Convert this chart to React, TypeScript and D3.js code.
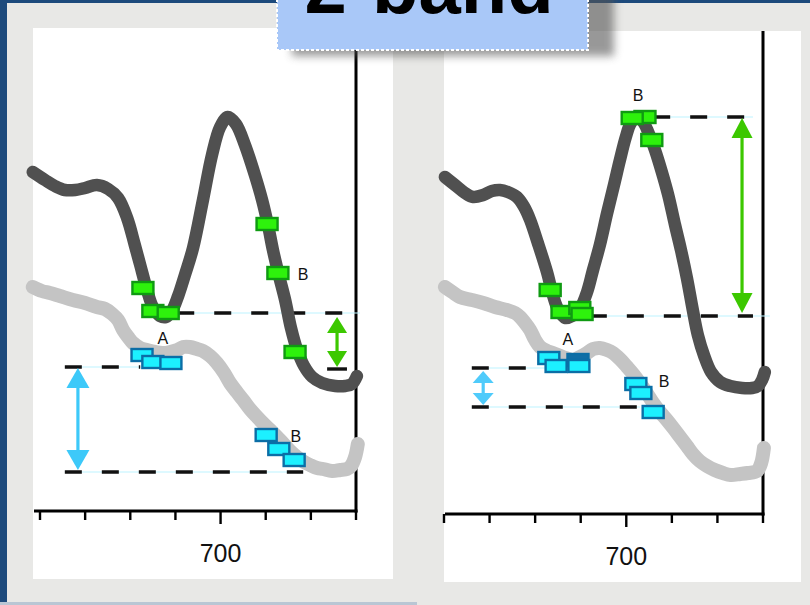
import React from 'react';
import * as d3 from 'd3';

const W = 810;
const H = 605;

// x axis: wavelength (nm)
const tickValues = [660, 670, 680, 690, 700, 710, 720, 730];
const majorTicks = [700];
const title = '2-band';

// curves: [wavelength nm, signal]
const leftDark: [number, number][] = [
  [658.4, 69.6], [661.1, 68.0], [663.3, 66.8], [665.5, 66.0], [667.8, 66.0], [670.0, 66.4], [672.6, 67.0],
  [675.1, 66.2], [677.3, 64.4], [679.3, 60.4], [681.0, 55.0], [682.2, 51.0], [683.7, 46.0], [685.0, 42.6],
  [686.6, 40.8], [687.9, 40.6], [689.2, 41.8], [690.6, 44.8], [692.1, 49.0], [693.9, 54.4], [696.1, 64.0],
  [698.1, 73.0], [699.9, 78.6], [701.6, 80.6], [703.4, 79.2], [705.4, 75.0], [707.6, 69.0], [709.2, 64.0],
  [710.5, 59.0], [711.6, 54.0], [712.9, 49.0], [714.3, 44.0], [715.6, 38.4], [716.9, 34.2], [718.5, 30.8],
  [720.3, 28.6], [722.5, 27.4], [725.4, 26.8], [727.6, 26.8], [729.1, 27.2], [730.2, 28.8],
];
const leftLight: [number, number][] = [
  [658.4, 46.6], [660.4, 45.8], [662.2, 45.4], [664.4, 44.8], [667.3, 44.0], [670.0, 43.4], [672.6, 42.6],
  [674.4, 42.2], [676.0, 41.2], [677.3, 40.0], [678.4, 38.0], [679.5, 36.6], [680.6, 35.4], [682.2, 34.4],
  [683.7, 34.0], [685.5, 33.6], [687.2, 33.4], [688.8, 33.6], [690.4, 34.0], [691.7, 34.6], [693.2, 34.6],
  [694.8, 34.2], [696.1, 33.8], [697.7, 32.8], [699.2, 31.4], [700.8, 29.4], [702.1, 27.4], [703.6, 25.6],
  [705.0, 24.0], [706.5, 22.2], [708.1, 20.6], [709.6, 19.2], [711.0, 18.0], [712.5, 16.6], [713.8, 15.4],
  [715.4, 13.8], [716.9, 12.6], [718.5, 11.6], [719.8, 11.0], [721.4, 10.4], [722.7, 10.2], [724.7, 9.8],
  [726.5, 10.0], [728.0, 10.2], [728.9, 10.8], [729.8, 12.6], [730.4, 15.2],
];
const rightDark: [number, number][] = [
  [660.2, 68.6], [662.4, 67.0], [664.6, 65.4], [666.4, 64.6], [668.6, 65.0], [670.5, 65.8], [672.3, 66.0],
  [674.0, 65.6], [676.0, 64.6], [677.6, 62.6], [678.9, 60.0], [680.6, 55.4], [682.6, 49.6], [683.9, 45.0],
  [685.0, 42.2], [686.6, 40.4], [688.1, 40.8], [689.8, 42.2], [691.4, 45.6], [692.7, 50.0], [694.2, 55.0],
  [695.8, 61.4], [697.3, 67.0], [698.6, 72.0], [699.9, 76.6], [701.0, 79.4], [702.4, 80.6], [703.7, 79.6],
  [704.8, 77.6], [706.3, 74.0], [707.8, 69.6], [709.2, 65.0], [710.7, 59.0], [712.0, 54.0], [713.3, 48.4],
  [714.6, 42.0], [715.7, 37.0], [717.1, 32.8], [718.6, 29.6], [720.6, 27.6], [722.8, 26.8], [725.4, 26.4],
  [727.6, 26.4], [728.9, 26.8], [729.8, 28.0], [730.4, 29.6],
];
const rightLight: [number, number][] = [
  [660.2, 46.6], [661.8, 45.6], [663.5, 44.6], [666.1, 44.0], [668.6, 43.4], [671.2, 42.6], [673.8, 42.0],
  [675.6, 41.4], [676.7, 40.6], [677.8, 39.4], [678.9, 38.0], [680.0, 36.0], [681.1, 34.6], [682.6, 33.8],
  [683.9, 33.4], [686.1, 32.6], [688.3, 32.0], [689.8, 32.6], [691.4, 33.4], [692.7, 34.2], [694.2, 34.4],
  [695.8, 34.0], [697.1, 33.4], [698.6, 32.2], [700.2, 30.6], [701.7, 29.0], [703.0, 27.4], [704.5, 25.4],
  [705.9, 23.4], [707.4, 21.6], [708.9, 20.0], [710.3, 18.4], [711.8, 16.6], [713.3, 14.8], [714.6, 13.2],
  [716.1, 11.8], [717.7, 10.8], [719.4, 10.0], [721.2, 9.4], [722.9, 9.0], [725.0, 9.2], [726.7, 9.4],
  [728.7, 9.8], [729.6, 11.4], [730.2, 14.4],
];

// band markers
const leftGreenMarks: [number, number][] = [[682.8, 46.4], [685.0, 41.8], [688.4, 41.4], [710.3, 59.2], [712.7, 49.4], [716.5, 33.6]];
const leftBlueMarks: [number, number][] = [[682.6, 33.0], [685.0, 31.6], [689.0, 31.4], [710.1, 17.0], [712.9, 14.2], [716.3, 12.0]];
const rightGreenMarks: [number, number][] = [[683.3, 46.0], [685.9, 41.6], [689.8, 42.4], [690.3, 41.2], [704.1, 80.6], [701.3, 80.4], [705.6, 76.0]];
const rightBlueMarksA: [number, number][] = [[683.0, 32.4], [684.6, 30.8]];
const rightBlueDark: [number, number][] = [[689.4, 32.0]];
const rightBlueMarksB: [number, number][] = [[689.6, 30.8], [702.1, 27.2], [703.2, 25.4], [705.9, 21.6]];

// reference levels
const leftGreenLevels = [41.4, 30.2];
const leftBlueLevels = [30.6, 9.6];
const rightGreenLevels = [80.6, 40.8];
const rightBlueLevels = [30.4, 22.6];

// point labels: text, nm, signal
const leftLabels: [string, number, number][] = [['A', 687.2, 35.2], ['B', 718.3, 48.0], ['B', 716.7, 15.6]];
const rightLabels: [string, number, number][] = [['A', 687.2, 35.0], ['B', 702.6, 83.8], ['B', 708.3, 26.6]];

const y = d3.scaleLinear().domain([0, 100]).range([520, 20]);

const GREEN_FILL = '#2ef20c';
const GREEN_STROKE = '#0f9a12';
const CYAN_FILL = '#1cf0ff';
const BLUE_STROKE = '#0b6ea6';
const DARK_BLUE = '#0f6ea6';
const DARK_LINE = '#505050';
const LIGHT_LINE = '#c4c4c4';

function Marker({ cx, cy, fill, stroke }: { cx: number; cy: number; fill: string; stroke: string }) {
  return <rect x={cx - 10.5} y={cy - 6} width={21} height={12} fill={fill} stroke={stroke} strokeWidth={2.4} />;
}

function Arrow({ x, y1, y2, hw, hh, color }: { x: number; y1: number; y2: number; hw: number; hh: number; color: string }) {
  return (
    <g fill={color} stroke="none">
      <line x1={x} x2={x} y1={y1 + hh - 1} y2={y2 - hh + 1} stroke={color} strokeWidth={3.2} />
      <polygon points={`${x},${y1} ${x - hw / 2},${y1 + hh} ${x + hw / 2},${y1 + hh}`} />
      <polygon points={`${x},${y2} ${x - hw / 2},${y2 - hh} ${x + hw / 2},${y2 - hh}`} />
    </g>
  );
}

function Dashed({ x1, x2, yy, thinEnd }: { x1: number; x2: number; yy: number; thinEnd?: number }) {
  return (
    <g>
      <line x1={x1} x2={thinEnd ?? x2} y1={yy} y2={yy} stroke="#bdf3ff" strokeWidth={1.2} />
      <line x1={x1} x2={x2} y1={yy} y2={yy} stroke="#111" strokeWidth={3.4} strokeDasharray="17 20" />
    </g>
  );
}

type PanelProps = {
  px0: number; px1: number; py0: number; py1: number;
  axisX: number; axisY: number; r0: number; r1: number;
  dark: [number, number][]; light: [number, number][];
  children: (x: d3.ScaleLinear<number, number>) => { pre: React.ReactNode; post: React.ReactNode };
};

function Panel({ px0, px1, py0, py1, axisX, axisY, r0, r1, dark, light, children }: PanelProps) {
  const x = d3.scaleLinear().domain([660, 730]).range([r0, r1]);
  const lineGen = d3.line<[number, number]>().x(d => x(d[0])).y(d => y(d[1])).curve(d3.curveCatmullRom.alpha(0.5));
  const parts = children(x);
  return (
    <g>
      <rect x={px0} y={py0} width={px1 - px0} height={py1 - py0} fill="#ffffff" />
      <line x1={axisX} x2={axisX} y1={py0} y2={axisY + 1.5} stroke="#000" strokeWidth={3} />
      <line x1={px0 + 1} x2={axisX + 1.5} y1={axisY} y2={axisY} stroke="#000" strokeWidth={3.2} />
      {tickValues.map(t => (
        <line key={t} x1={x(t)} x2={x(t)} y1={axisY} y2={axisY + (majorTicks.includes(t) ? 13 : 9)} stroke="#000" strokeWidth={2.4} />
      ))}
      {majorTicks.map(t => (
        <text key={t} x={x(t)} y={axisY + 51} fontSize={25} textAnchor="middle" fontFamily="'Liberation Sans', Arial, sans-serif" fill="#111">
          {String(t)}
        </text>
      ))}
      {parts.pre}
      <path d={lineGen(light) || ''} fill="none" stroke={LIGHT_LINE} strokeWidth={14} strokeLinejoin="round" strokeLinecap="round" />
      <path d={lineGen(dark) || ''} fill="none" stroke={DARK_LINE} strokeWidth={12.5} strokeLinejoin="round" strokeLinecap="round" />
      {parts.post}
    </g>
  );
}

export default function App() {
  const font = "'Liberation Sans', Arial, sans-serif";
  const labelEl = (x: d3.ScaleLinear<number, number>, labels: [string, number, number][], key: string) =>
    labels.map((l, i) => (
      <text key={key + i} x={x(l[1])} y={y(l[2])} fontSize={16} textAnchor="middle" fontFamily={font} fill="#111">
        {l[0]}
      </text>
    ));
  const marks = (x: d3.ScaleLinear<number, number>, arr: [number, number][], fill: string, stroke: string, key: string) =>
    arr.map((m, i) => <Marker key={key + i} cx={x(m[0])} cy={y(m[1])} fill={fill} stroke={stroke} />);

  return (
    <svg width={W} height={H} style={{ position: 'fixed', left: 0, top: 0 }} xmlns="http://www.w3.org/2000/svg">
      <defs>
        <filter id="shadow" x="-20%" y="-60%" width="140%" height="220%">
          <feGaussianBlur stdDeviation={4} />
        </filter>
      </defs>
      <rect x={0} y={0} width={W} height={H} fill="#1d4a7c" />
      <rect x={7} y={3} width={W - 7} height={H - 3} fill="#e8e8e6" />
      <rect x={0} y={602} width={417} height={3} fill="#b9c6d4" />

      <Panel px0={33} px1={393} py0={28} py1={579} axisX={356} axisY={511} r0={40} r1={356}
        dark={leftDark} light={leftLight}>
        {(x) => ({
          pre: (
            <g>
              <Dashed x1={x(690.4)} x2={x(730)} yy={y(leftGreenLevels[0])} thinEnd={x(730) + 4} />
              <line x1={x(723.6)} x2={x(728.0)} y1={y(leftGreenLevels[1])} y2={y(leftGreenLevels[1])} stroke="#111" strokeWidth={3.4} />
              <Dashed x1={x(665.5)} x2={x(682.2)} yy={y(leftBlueLevels[0])} />
              <Dashed x1={x(665.5)} x2={x(718.3)} yy={y(leftBlueLevels[1])} />
            </g>
          ),
          post: (
            <g>
              <Arrow x={x(725.8)} y1={y(leftGreenLevels[0]) + 4} y2={y(leftGreenLevels[1]) - 2} hw={20} hh={16} color="#3cc800" />
              <Arrow x={x(668.4)} y1={y(leftBlueLevels[0]) + 1} y2={y(leftBlueLevels[1]) - 2} hw={23} hh={20} color="#3dc9f9" />
              {marks(x, leftGreenMarks, GREEN_FILL, GREEN_STROKE, 'lg')}
              {marks(x, leftBlueMarks, CYAN_FILL, BLUE_STROKE, 'lb')}
              {labelEl(x, leftLabels, 'll')}
            </g>
          ),
        })}
      </Panel>

      <Panel px0={444} px1={801} py0={31} py1={582} axisX={763} axisY={514} r0={444} r1={763}
        dark={rightDark} light={rightLight}>
        {(x) => ({
          pre: (
            <g>
              <Dashed x1={x(705.9)} x2={x(727.8)} yy={y(rightGreenLevels[0])} />
              <Dashed x1={x(692.0)} x2={x(727.8)} yy={y(rightGreenLevels[1])} thinEnd={x(731.5)} />
              <Dashed x1={x(666.1)} x2={x(682.2)} yy={y(rightBlueLevels[0])} />
              <Dashed x1={x(666.1)} x2={x(703.0)} yy={y(rightBlueLevels[1])} />
            </g>
          ),
          post: (
            <g>
              <Arrow x={x(725.4)} y1={y(rightGreenLevels[0]) + 1} y2={y(rightGreenLevels[1]) - 3} hw={21} hh={20} color="#3cc800" />
              <Arrow x={x(668.6)} y1={y(rightBlueLevels[0]) + 3} y2={y(rightBlueLevels[1]) - 2} hw={21} hh={12} color="#4fcbfb" />
              {marks(x, rightGreenMarks, GREEN_FILL, GREEN_STROKE, 'rg')}
              {marks(x, rightBlueMarksA, CYAN_FILL, BLUE_STROKE, 'rba')}
              {marks(x, rightBlueDark, DARK_BLUE, BLUE_STROKE, 'rbd')}
              {marks(x, rightBlueMarksB, CYAN_FILL, BLUE_STROKE, 'rbb')}
              {labelEl(x, rightLabels, 'rl')}
            </g>
          ),
        })}
      </Panel>

      {/* title */}
      <rect x={292} y={-12} width={322} height={68} fill="#555" opacity={0.6} filter="url(#shadow)" />
      <rect x={277} y={-10} width={311} height={60} fill="#a9c8f8" stroke="#ffffff" strokeWidth={2} strokeDasharray="3 2" />
      <text x={429} y={13} fontSize={76} fontWeight="bold" textAnchor="middle" fontFamily={font} fill="#000">
        {title}
      </text>
    </svg>
  );
}
